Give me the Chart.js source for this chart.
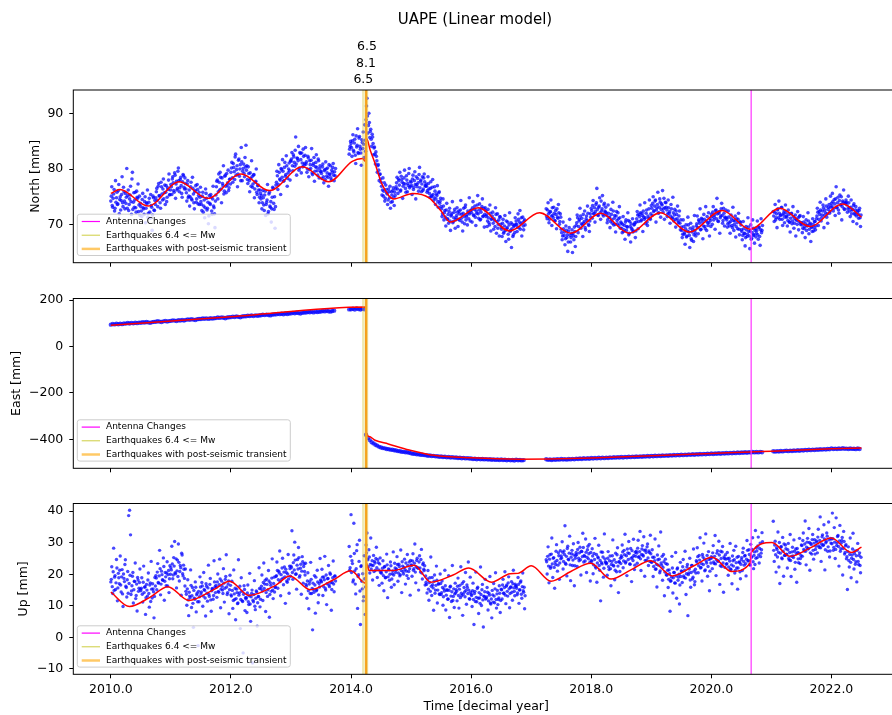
<!DOCTYPE html>
<html>
<head>
<meta charset="utf-8">
<title>UAPE (Linear model)</title>
<script src="https://cdn.jsdelivr.net/npm/chart.js@4.4.1/dist/chart.umd.min.js"></script>
<style>
  html, body { margin: 0; padding: 0; background: #fff; overflow: hidden; }
  #wrap { position: relative; width: 892px; height: 715px; overflow: hidden; }
  #wrap canvas { position: absolute; left: 0; }
</style>
</head>
<body>
<div id="wrap">
  <canvas id="north" width="903" height="285" style="top:0px"></canvas>
  <canvas id="east" width="903" height="205" style="top:285px"></canvas>
  <canvas id="up" width="903" height="225" style="top:490px"></canvas>
</div>
<script>
const _ = null; // no solution for that epoch

const xTicks = [2010, 2012, 2014, 2016, 2018, 2020, 2022];
const northTicks = [70, 80, 90];
const eastTicks = [-400, -200, 0, 200];
const upTicks = [-10, 0, 10, 20, 30, 40];

// events
const antennaChanges = [2020.663];
const quakeTimes = [2014.205, 2014.249, 2014.265];
const quakeMags = ['6.5', '8.1', '6.5'];
const transientTimes = [2014.252];

// fitted trajectory model (knots)
const northModelT = [2010.0, 2010.15, 2010.62, 2011.14, 2011.61, 2012.17, 2012.64, 2013.19, 2013.63, 2014.02, 2014.19, 2014.235, 2014.255, 2014.32, 2014.40, 2014.51, 2014.71, 2015.03, 2015.30, 2015.50, 2015.65, 2016.12, 2016.64, 2017.14, 2017.66, 2018.16, 2018.63, 2019.15, 2019.63, 2020.18, 2020.65, 2021.14, 2021.64, 2022.19, 2022.5];
const northModelV = [75.6, 76.3, 73.3, 77.7, 74.7, 79.1, 76.1, 80.4, 77.7, 81.4, 81.9, 81.4, 85.6, 83.4, 81.0, 77.4, 74.6, 75.6, 74.8, 72.4, 70.4, 73.0, 68.8, 72.1, 68.4, 72.0, 68.4, 72.1, 68.6, 72.5, 69.1, 72.9, 69.6, 73.7, 71.3];

const eastModelT = [2010.0, 2012.0, 2014.245, 2014.255, 2014.30, 2014.40, 2014.62, 2014.97, 2015.38, 2016.0, 2016.8, 2017.3, 2018.0, 2019.0, 2020.0, 2020.65, 2021.0, 2022.0, 2022.5];
const eastModelV = [91, 128, 170, -372, -388, -404, -420, -446, -469, -480, -486, -485, -481, -471, -461, -455, -451, -441, -437];

const upModelT = [2010.0, 2010.31, 2010.65, 2010.95, 2011.30, 2011.70, 2011.98, 2012.30, 2012.75, 2012.98, 2013.32, 2013.70, 2014.00, 2014.24, 2014.255, 2014.30, 2014.70, 2015.05, 2015.33, 2015.70, 2015.96, 2016.34, 2016.65, 2016.78, 2017.00, 2017.33, 2017.66, 2017.99, 2018.33, 2018.66, 2018.99, 2019.35, 2019.71, 2020.01, 2020.34, 2020.645, 2020.665, 2021.01, 2021.31, 2021.64, 2022.00, 2022.33, 2022.50];
const upModelV = [14.4, 9.8, 12.7, 16.1, 11.7, 15.0, 17.8, 13.3, 16.6, 19.5, 15.1, 18.2, 21.1, 17.2, 23.6, 21.2, 21.2, 22.9, 17.5, 19.8, 22.0, 17.5, 20.2, 20.3, 22.7, 17.8, 20.9, 23.5, 18.5, 21.4, 24.3, 19.5, 22.7, 25.4, 20.9, 23.6, 26.9, 30.1, 25.7, 28.3, 31.5, 26.9, 28.6];

// observed positions, one row per quarter year starting 2010.0
const northObs = [
  [74.2, 76.8, 73.1, 75.5, 72.4, 77.9, 74.8, 73.6, 76.1, 71.9, 75.0, 74.3, 78.6, 73.2, 75.9, 72.8],
  [73.8, 80.1, 75.2, 72.5, 74.6, 76.9, 71.8, 79.4, 74.0, 73.1, 75.8, 72.2, 74.9, 77.3, 73.5, 71.6],
  [73.2, 71.4, 75.6, 72.8, 74.1, 70.3, 73.9, 76.2, 72.0, 74.7, 71.1, 73.4, 68.9, 75.1, 72.6, 74.3],
  [74.8, 76.5, 73.2, 77.4, 75.1, 72.9, 76.8, 74.4, 78.2, 75.7, 73.6, 77.0, 74.9, 76.3, 79.1, 75.4],
  [77.2, 75.4, 78.6, 76.1, 79.3, 74.7, 77.8, 76.5, 80.2, 75.9, 78.1, 77.0, 74.9, 79.0, 76.7, 78.4],
  [76.4, 74.2, 77.9, 75.1, 73.3, 76.8, 74.6, 78.5, 75.5, 72.8, 76.1, 74.0, 77.2, 73.7, 75.8, 74.9],
  [74.1, 72.5, 75.8, 73.3, 71.2, 76.4, 74.7, 72.9, 70.1, 75.2, 73.6, 74.9, 71.8, 76.9, 73.0, 69.4],
  [75.3, 77.8, 74.6, 79.1, 76.2, 78.5, 73.9, 77.4, 80.6, 76.0, 78.9, 75.7, 77.1, 79.8, 76.6, 78.2],
  [79.4, 81.2, 77.6, 80.3, 78.1, 82.7, 79.9, 76.8, 81.6, 78.7, 80.8, 83.9, 77.9, 80.1, 79.2, 82.1],
  [84.3, 80.6, 77.4, 79.2, 75.9, 78.3, 81.5, 76.7, 78.9, 74.8, 77.6, 80.0, 75.4, 77.1, 73.9, 76.2],
  [74.6, 72.8, 76.1, 73.5, 75.3, 71.6, 74.0, 77.2, 72.3, 75.8, 73.1, 70.4, 74.9, 76.5, 72.7, 69.3],
  [77.1, 79.6, 76.3, 80.8, 78.2, 75.4, 79.9, 81.7, 77.8, 80.3, 78.7, 82.4, 76.9, 79.3, 81.1, 78.0],
  [81.4, 83.0, 79.7, 82.2, 80.5, 85.8, 78.9, 81.9, 84.1, 80.2, 82.8, 79.3, 81.1, 83.6, 80.7, 82.5],
  [80.9, 79.4, 82.3, 78.6, 81.5, 80.1, 83.7, 79.0, 81.0, 77.8, 80.4, 82.6, 79.7, 81.8, 78.4, 80.6],
  [79.6, 78.3, 80.9, 77.5, 79.9, 81.3, 78.7, 80.2, 76.9, 79.1, 80.6, 78.0, 79.4, 81.0, 77.9, 78.8],
  [_, _, _, _, _, _, _, _, _, _, _, _, _, _, 82.7, 84.1],
  [84.6, 82.3, 86.2, 83.1, 85.4, 81.0, 84.0, 87.3, 82.8, 85.9, 83.6, 80.7, 84.8, 86.7, 82.1, 85.2],
  [88.9, 92.8, 86.5, 90.1, 85.7, 87.2, 84.1, 85.8, 82.6, 84.0, 80.9, 82.3, 79.4, 80.8, 77.9, 79.1],
  [77.6, 75.3, 78.4, 76.0, 74.2, 77.1, 75.7, 73.6, 76.4, 74.8, 72.9, 75.9, 74.1, 76.6, 73.4, 75.2],
  [76.8, 78.5, 75.6, 77.9, 79.4, 76.2, 78.1, 74.7, 77.4, 79.8, 76.5, 78.8, 75.9, 77.0, 80.1, 76.9],
  [77.6, 75.4, 78.9, 76.7, 79.5, 74.6, 77.2, 78.3, 76.0, 80.3, 77.8, 75.9, 78.6, 76.4, 79.1, 77.0],
  [77.3, 75.8, 78.6, 76.4, 74.9, 77.7, 75.2, 78.1, 74.3, 76.8, 73.6, 75.5, 77.0, 73.1, 75.9, 74.2],
  [73.2, 71.4, 74.6, 70.8, 72.5, 69.7, 73.8, 71.0, 70.2, 72.9, 68.9, 71.7, 74.1, 70.5, 72.2, 69.3],
  [71.2, 73.0, 69.6, 72.4, 70.7, 74.3, 71.8, 68.8, 72.9, 70.1, 73.5, 71.4, 69.9, 72.1, 74.8, 70.6],
  [72.6, 70.4, 74.1, 71.7, 73.3, 69.8, 72.0, 75.2, 71.1, 73.7, 70.9, 72.8, 74.6, 71.5, 69.5, 73.0],
  [71.4, 69.6, 72.7, 70.3, 73.5, 68.8, 71.0, 72.2, 69.1, 70.7, 73.0, 68.4, 71.9, 70.0, 67.9, 71.3],
  [69.5, 67.8, 70.9, 68.6, 71.6, 66.9, 69.2, 70.4, 67.3, 72.1, 68.9, 65.8, 70.0, 68.1, 69.8, 71.2],
  [70.6, 68.7, 71.9, 69.4, 72.5, 70.1, 67.9, 71.3, 69.0, 70.8, _, _, _, _, _, _],
  [_, _, _, _, _, _, _, _, _, _, _, _, _, _, _, _],
  [72.8, 71.0, 73.9, 70.3, 72.2, 74.4, 69.8, 71.6, 73.1, 70.7, 72.5, 69.2, 71.3, 73.6, 70.0, 71.9],
  [69.1, 67.2, 70.4, 68.0, 66.3, 69.7, 67.6, 65.1, 68.8, 70.9, 66.8, 68.3, 64.9, 67.9, 69.5, 66.0],
  [69.8, 71.7, 68.5, 70.6, 72.9, 69.3, 71.1, 67.8, 70.2, 72.4, 69.0, 71.5, 73.3, 70.0, 68.7, 71.9],
  [72.9, 71.1, 74.3, 72.0, 70.4, 73.6, 76.5, 71.7, 73.1, 74.8, 70.9, 72.4, 75.2, 71.5, 73.8, 72.2],
  [72.1, 70.3, 73.5, 71.2, 69.4, 72.7, 70.8, 74.0, 69.9, 71.6, 68.6, 72.3, 70.1, 71.0, 73.2, 69.3],
  [70.2, 68.5, 71.4, 69.0, 67.3, 70.8, 69.6, 72.1, 68.1, 70.5, 66.8, 69.3, 71.0, 68.8, 70.0, 67.6],
  [70.4, 72.3, 69.2, 71.8, 73.5, 70.6, 72.0, 68.7, 71.3, 73.9, 70.1, 72.6, 69.8, 71.1, 74.4, 70.9],
  [73.4, 71.6, 75.0, 72.5, 74.2, 70.4, 73.0, 75.8, 72.1, 74.6, 71.3, 73.7, 76.1, 72.8, 70.9, 74.0],
  [73.1, 71.4, 74.4, 72.0, 70.2, 73.6, 71.1, 74.9, 70.6, 72.7, 69.5, 71.8, 73.3, 70.3, 72.4, 69.0],
  [69.5, 67.6, 70.8, 68.2, 66.4, 69.9, 67.9, 71.3, 68.6, 65.8, 70.2, 67.1, 69.0, 66.9, 71.6, 68.4],
  [69.7, 71.5, 68.3, 70.6, 72.8, 69.1, 70.9, 67.4, 71.8, 69.6, 73.2, 68.9, 70.3, 72.1, 67.9, 70.7],
  [71.8, 70.0, 73.2, 71.3, 69.1, 72.6, 74.7, 70.6, 72.0, 68.4, 71.5, 73.8, 70.2, 72.9, 69.7, 71.1],
  [71.2, 69.5, 72.4, 70.3, 68.4, 71.7, 69.8, 73.1, 68.9, 70.6, 67.7, 71.0, 69.2, 72.0, 68.1, 70.4],
  [69.0, 67.2, 70.5, 68.3, 66.1, 69.6, 67.8, 71.2, 68.7, 65.6, 69.9, 67.5, 70.8, 68.0, 66.6, 69.3],
  [68.4, 70.6, 67.3, 69.5, 66.2, 71.0, 68.9, _, _, _, _, _, _, _, _, _],
  [_, _, 72.3, 70.5, 73.6, 71.2, 69.4, 72.8, 74.2, 70.9, 71.7, 73.1, 69.8, 72.0, 70.3, 73.5],
  [71.5, 69.7, 72.6, 70.4, 68.6, 71.9, 70.1, 73.2, 69.3, 71.0, 67.9, 70.7, 72.3, 69.0, 71.4, 70.0],
  [70.3, 68.5, 71.4, 69.2, 67.6, 70.8, 69.7, 72.1, 68.3, 70.0, 66.9, 69.5, 71.0, 68.8, 70.5, 69.0],
  [71.0, 72.9, 69.8, 72.3, 74.0, 70.6, 71.7, 73.5, 69.4, 72.6, 74.6, 71.3, 70.2, 73.1, 72.0, 75.1],
  [73.8, 75.6, 72.4, 74.5, 71.6, 76.8, 73.1, 74.9, 72.0, 75.3, 73.6, 70.8, 74.2, 76.2, 72.7, 73.9],
  [74.0, 72.2, 75.1, 73.0, 71.4, 74.4, 72.6, 70.5, 73.7, 71.8, 73.2, 70.1, 72.5, 71.1, 72.9, 69.6]
];

// second set of epochs, half a step later in each row
const northObsB = [
  [75.1, 73.4, 74.7, 76.3, 72.9, 74.0, 75.8, 73.7, 77.2, 74.5, 72.6, 75.4, 73.9, 76.7, 74.2, 75.6],
  [74.9, 72.9, 76.2, 73.6, 75.3, 74.1, 78.2, 72.7, 75.7, 74.4, 73.0, 76.0, 74.7, 72.3, 75.1, 73.8],
  [72.4, 74.5, 73.0, 71.8, 75.0, 72.9, 73.7, 71.3, 74.0, 72.2, 75.4, 73.1, 71.7, 74.8, 72.5, 73.6],
  [75.9, 74.3, 76.9, 75.2, 73.9, 77.6, 75.5, 76.4, 74.6, 77.1, 75.8, 74.1, 76.6, 78.0, 75.3, 76.2],
  [76.8, 78.2, 77.5, 75.8, 78.9, 77.3, 76.2, 79.6, 77.9, 76.6, 78.5, 75.6, 77.7, 78.8, 76.4, 77.4],
  [75.7, 77.3, 74.8, 76.2, 75.0, 77.6, 74.4, 76.5, 73.9, 75.9, 77.0, 74.6, 76.3, 75.2, 73.6, 76.7],
  [73.6, 75.1, 72.2, 74.4, 73.0, 75.6, 72.6, 74.0, 71.5, 73.8, 75.4, 72.4, 74.6, 73.3, 71.9, 74.2],
  [76.8, 78.0, 75.9, 77.6, 79.4, 76.4, 78.4, 77.0, 75.5, 78.7, 76.9, 79.2, 77.5, 76.1, 78.1, 77.3],
  [80.2, 78.4, 81.0, 79.5, 82.2, 78.9, 80.6, 79.1, 81.8, 80.0, 77.9, 81.3, 79.6, 80.9, 78.6, 80.4],
  [79.8, 78.1, 80.4, 77.9, 79.3, 76.9, 78.6, 77.3, 79.0, 76.4, 77.8, 75.8, 77.0, 76.2, 74.9, 75.6],
  [75.2, 73.9, 74.8, 72.5, 76.0, 73.6, 74.4, 71.9, 75.5, 73.3, 74.1, 72.8, 76.7, 73.8, 75.0, 73.2],
  [77.6, 78.8, 77.2, 79.4, 78.0, 80.1, 78.5, 79.6, 77.9, 81.2, 79.0, 80.6, 78.3, 80.0, 79.7, 81.5],
  [81.8, 80.6, 82.6, 81.2, 83.4, 80.9, 82.0, 81.5, 79.8, 83.0, 81.7, 82.9, 80.4, 82.3, 81.0, 83.9],
  [81.3, 80.0, 82.0, 79.9, 80.8, 81.6, 79.3, 80.7, 82.1, 79.6, 81.2, 80.3, 78.9, 81.5, 80.1, 79.5],
  [79.2, 80.4, 78.6, 79.7, 78.1, 80.0, 79.3, 78.5, 80.8, 79.0, 78.4, 79.8, 80.3, 78.9, 79.5, 80.1],
  [_, _, _, _, _, _, _, _, _, _, _, _, _, _, 83.6, 85.0],
  [83.9, 85.1, 83.4, 84.7, 82.5, 86.0, 84.3, 83.0, 85.6, 84.1, 82.9, 85.3, 83.7, 84.5, 88.0, 83.2],
  [91.4, 89.6, 87.9, 88.4, 86.8, 85.4, 86.3, 84.6, 83.8, 82.7, 83.1, 81.5, 80.6, 79.8, 79.0, 78.2],
  [76.9, 76.2, 75.1, 77.5, 74.7, 76.3, 75.5, 74.4, 75.9, 76.9, 74.0, 75.3, 76.1, 74.9, 75.8, 76.4],
  [77.5, 76.4, 78.2, 77.1, 76.0, 78.7, 77.6, 76.9, 78.4, 77.3, 75.8, 78.0, 77.4, 79.2, 76.6, 77.8],
  [77.0, 78.2, 76.3, 77.9, 77.2, 78.6, 76.8, 77.5, 79.0, 76.6, 78.0, 77.3, 76.1, 78.4, 77.7, 76.9],
  [76.9, 76.1, 77.4, 75.6, 76.5, 75.0, 76.7, 75.4, 74.8, 76.0, 74.6, 75.2, 74.1, 75.7, 73.8, 74.7],
  [72.8, 71.9, 73.3, 72.1, 71.3, 72.6, 70.9, 71.8, 72.3, 70.6, 71.5, 72.0, 70.3, 71.2, 72.7, 70.8],
  [71.6, 72.2, 70.9, 71.9, 72.6, 71.1, 70.4, 72.0, 71.4, 73.1, 70.8, 71.7, 72.4, 71.0, 71.9, 72.5],
  [72.1, 73.0, 71.6, 72.7, 71.3, 72.4, 73.5, 71.9, 72.6, 70.8, 72.2, 73.2, 71.4, 72.9, 71.8, 72.5],
  [71.7, 70.6, 71.2, 69.9, 72.0, 70.9, 71.5, 70.2, 71.0, 69.6, 71.8, 70.5, 69.3, 70.8, 71.4, 70.0],
  [69.1, 70.2, 68.4, 69.7, 68.9, 70.6, 69.4, 68.2, 69.9, 68.7, 70.3, 69.2, 67.8, 69.6, 68.5, 70.0],
  [70.0, 69.5, 70.9, 70.4, 69.1, 71.2, 70.3, 69.7, 70.6, 69.9, _, _, _, _, _, _],
  [_, _, _, _, _, _, _, _, _, _, _, _, _, _, _, _],
  [71.4, 72.6, 71.9, 70.9, 72.3, 71.5, 73.0, 71.2, 72.0, 70.6, 71.8, 72.8, 71.1, 72.1, 70.5, 71.3],
  [68.5, 67.9, 69.2, 68.6, 67.4, 68.9, 68.1, 66.8, 69.4, 68.0, 67.6, 69.0, 68.3, 67.2, 68.7, 67.8],
  [70.3, 71.2, 69.6, 70.9, 71.5, 70.1, 69.9, 71.8, 70.5, 69.4, 71.0, 70.7, 72.0, 69.8, 70.6, 71.3],
  [72.5, 73.4, 71.9, 73.0, 72.3, 73.9, 72.7, 71.6, 73.3, 72.1, 74.2, 72.8, 71.8, 73.5, 72.4, 73.1],
  [71.6, 70.8, 72.0, 71.3, 70.5, 71.8, 70.2, 72.4, 71.1, 70.0, 71.5, 70.7, 72.1, 69.8, 71.2, 70.4],
  [69.3, 70.0, 68.7, 69.8, 70.4, 68.9, 69.5, 70.7, 68.4, 69.6, 70.1, 69.0, 68.6, 69.9, 70.3, 68.8],
  [71.0, 71.7, 70.5, 71.4, 72.1, 70.8, 71.6, 72.4, 70.9, 71.2, 72.0, 70.4, 71.5, 72.8, 71.1, 71.9],
  [72.9, 73.8, 72.3, 73.3, 74.4, 72.6, 73.6, 72.0, 73.1, 74.0, 72.7, 73.5, 72.2, 74.7, 73.0, 73.9],
  [72.6, 71.9, 73.0, 72.3, 71.5, 72.8, 71.2, 72.1, 71.7, 70.9, 72.4, 71.0, 70.6, 71.5, 70.2, 70.8],
  [68.9, 68.2, 69.6, 68.5, 69.2, 67.7, 68.8, 69.9, 68.0, 69.3, 67.4, 68.6, 69.5, 68.1, 68.9, 67.9],
  [70.1, 69.4, 70.8, 70.2, 69.0, 71.1, 70.4, 69.7, 70.9, 69.2, 70.6, 71.4, 69.8, 70.3, 71.0, 69.6],
  [71.4, 72.2, 70.8, 71.7, 72.5, 71.0, 71.9, 70.5, 72.3, 71.2, 72.8, 71.6, 70.7, 72.0, 71.3, 72.6],
  [70.8, 70.1, 71.3, 69.7, 70.5, 71.0, 69.4, 70.7, 70.0, 71.5, 69.6, 70.3, 70.9, 69.1, 70.4, 69.9],
  [68.7, 68.0, 69.2, 68.4, 67.6, 69.0, 68.2, 69.5, 67.9, 68.8, 67.3, 68.5, 69.3, 68.1, 68.9, 67.7],
  [68.9, 68.1, 69.4, 67.8, 69.0, 68.5, 69.8, _, _, _, _, _, _, _, _, _],
  [_, _, 71.5, 72.2, 70.8, 71.9, 72.6, 71.2, 72.0, 71.6, 73.0, 70.9, 71.7, 72.4, 71.3, 72.1],
  [71.3, 70.7, 71.8, 70.4, 71.1, 72.0, 70.6, 71.4, 70.2, 71.7, 70.9, 70.0, 71.2, 70.5, 71.6, 70.3],
  [69.9, 69.3, 70.4, 69.6, 70.1, 68.9, 69.8, 70.6, 69.1, 70.2, 69.5, 68.7, 70.0, 69.4, 70.5, 69.7],
  [71.5, 72.2, 70.9, 71.8, 72.6, 71.2, 72.4, 73.0, 71.6, 72.1, 73.3, 71.9, 72.7, 73.6, 72.3, 73.1],
  [73.3, 74.1, 72.9, 73.7, 74.6, 73.0, 73.9, 72.6, 74.3, 73.5, 75.0, 73.2, 74.0, 72.8, 73.8, 74.4],
  [73.5, 72.8, 73.9, 72.4, 73.1, 71.9, 72.7, 73.4, 72.0, 72.6, 71.5, 72.2, 71.8, 72.5, 71.2, 71.7]
];

const eastObs = [
  [94.1, 96.8, 95.2, 97.9, 95.7, 98.4, 96.3, 99.1],
  [98.6, 100.9, 99.3, 101.7, 99.8, 102.4, 100.5, 103.0],
  [102.2, 104.6, 103.1, 105.5, 103.8, 101.9, 104.9, 106.2],
  [106.4, 108.9, 107.2, 105.8, 108.3, 110.1, 107.7, 109.4],
  [110.3, 112.7, 111.5, 109.9, 113.2, 111.8, 114.0, 112.1],
  [114.6, 116.9, 115.1, 117.6, 115.8, 113.9, 117.2, 118.4],
  [118.2, 120.7, 119.5, 121.3, 118.9, 122.0, 120.1, 121.8],
  [122.4, 124.8, 123.1, 125.6, 123.7, 121.9, 125.0, 126.3],
  [126.5, 128.9, 127.2, 129.6, 127.8, 126.1, 129.0, 130.2],
  [130.3, 132.7, 131.4, 133.5, 131.0, 134.1, 132.2, 133.8],
  [134.6, 136.8, 135.2, 137.5, 135.9, 134.0, 137.1, 138.3],
  [138.2, 140.6, 139.4, 141.3, 139.0, 142.1, 140.2, 141.7],
  [142.5, 144.9, 143.3, 145.6, 143.8, 142.0, 145.2, 146.4],
  [146.3, 148.7, 147.5, 149.4, 147.0, 150.2, 148.1, 149.8],
  [150.6, 152.9, 151.3, 153.7, 151.8, 150.2, 153.0, 154.5],
  [_, _, _, _, _, _, _, 159.8],
  [160.4, 162.8, 159.6, 163.5, 161.2, 158.9, 162.3, 160.7],
  [-380.6, -394.8, -403.5, -412.9, -417.6, -423.8, -427.4, -432.5],
  [-435.2, -437.9, -439.1, -441.6, -442.4, -444.7, -445.3, -447.5],
  [-448.6, -450.9, -451.2, -453.4, -454.0, -455.8, -456.1, -458.2],
  [-460.3, -462.7, -462.2, -464.9, -464.6, -466.3, -466.9, -468.1],
  [-468.5, -470.6, -469.8, -472.2, -471.4, -473.5, -472.8, -474.9],
  [-474.2, -476.5, -475.3, -477.8, -476.1, -478.4, -477.0, -479.2],
  [-478.6, -480.3, -479.5, -481.7, -480.2, -482.4, -481.1, -483.0],
  [-482.7, -485.1, -483.6, -485.9, -484.2, -486.3, -484.8, -486.7],
  [-485.4, -487.6, -486.0, -488.2, -486.7, -488.9, -487.1, -489.3],
  [-487.2, -489.5, -488.1, -490.3, -488.6, -490.8, -489.0, -491.2],
  [-488.4, -490.6, -489.2, -491.0, -489.7, _, _, _],
  [_, _, _, _, _, _, _, _],
  [-486.3, -488.5, -487.0, -489.1, -486.6, -488.2, -485.9, -487.8],
  [-485.0, -487.2, -485.6, -487.8, -484.9, -486.7, -484.3, -486.4],
  [-483.5, -485.1, -482.6, -484.8, -482.0, -484.3, -481.5, -483.7],
  [-480.7, -482.9, -480.2, -482.4, -479.6, -481.8, -479.1, -481.3],
  [-478.8, -480.5, -478.1, -479.9, -477.4, -479.2, -476.9, -478.6],
  [-476.5, -478.3, -475.8, -477.6, -475.1, -476.9, -474.6, -476.2],
  [-474.0, -475.8, -473.4, -475.1, -472.8, -474.5, -472.2, -473.9],
  [-471.6, -473.3, -470.9, -472.7, -470.2, -472.0, -469.6, -471.4],
  [-469.1, -470.8, -468.4, -470.2, -467.8, -469.5, -467.1, -468.9],
  [-466.6, -468.3, -465.9, -467.7, -465.2, -467.0, -464.6, -466.4],
  [-464.0, -465.8, -463.4, -465.1, -462.8, -464.5, -462.2, -463.9],
  [-461.5, -463.3, -460.9, -462.6, -460.3, -462.0, -459.7, -461.5],
  [-459.0, -460.8, -458.4, -460.1, -457.8, -459.6, -457.2, -458.9],
  [-456.6, -458.3, -455.9, -457.7, -455.3, -457.0, -454.7, -456.4],
  [-454.8, -456.4, -454.1, -455.7, _, _, _, _],
  [_, -451.8, -453.3, -451.0, -452.7, -450.4, -452.1, -449.8],
  [-449.5, -451.0, -448.7, -450.4, -448.0, -449.7, -447.4, -449.1],
  [-446.6, -448.2, -445.8, -447.5, -445.1, -446.8, -444.5, -446.2],
  [-443.7, -445.3, -442.9, -444.6, -442.2, -443.9, -441.5, -443.2],
  [-439.2, -441.8, -440.3, -442.1, -439.6, -441.3, -438.9, -440.7],
  [-440.2, -441.9, -439.5, -441.3, -440.8, -442.4, -439.9, -441.6]
];

const upObs = [
  [17.6, 22.4, 13.9, 28.3, 19.1, 15.2, 24.7, 11.6, 20.3, 17.0, 25.8, 14.4, 21.5, 9.8, 18.7, 23.1],
  [16.2, 12.8, 20.9, 38.6, 40.3, 32.5, 14.7, 19.4, 10.9, 17.8, 23.6, 13.3, 8.4, 18.2, 15.6, 21.7],
  [14.8, 18.9, 11.2, 22.6, 15.9, 7.3, 16.8, 13.1, 20.4, 9.6, 17.3, 24.1, 12.5, 15.4, 6.2, 19.0],
  [19.6, 15.1, 23.4, 17.2, 27.6, 13.5, 21.0, 18.3, 25.2, 11.8, 20.6, 16.4, 24.0, 19.9, 14.2, 22.7],
  [22.1, 28.9, 18.6, 25.3, 30.4, 20.2, 15.7, 24.5, 29.6, 17.9, 22.8, 13.4, 26.1, 19.5, 21.6, 16.3],
  [14.6, 10.2, 18.3, 6.9, 13.1, 21.4, 9.5, 15.8, 3.2, 12.4, 17.6, 8.1, 14.0, -2.6, 11.3, 19.2],
  [13.8, 17.4, 9.9, 20.6, 14.9, 6.8, 16.2, 11.5, 22.9, 13.0, 18.7, 8.3, 15.5, 12.1, 24.3, 16.0],
  [16.5, 12.7, 20.1, 14.3, 24.8, 9.4, 17.9, 15.0, 21.8, 11.2, 18.4, 26.2, 13.6, 16.9, 7.5, 19.7],
  [13.5, 17.8, 9.2, 21.4, 12.0, 5.6, 15.3, 10.7, 24.6, 14.1, 2.8, 18.9, 11.6, -4.9, 16.4, 8.5],
  [12.2, 7.9, 16.6, 10.4, 20.3, 5.1, 13.9, -8.1, 11.3, 18.0, 8.8, 14.7, 3.6, 12.9, 22.1, 9.7],
  [15.4, 19.8, 11.7, 23.6, 16.9, 8.2, 18.5, 13.0, 21.2, 6.4, 17.3, 14.6, 24.9, 12.3, 19.1, 15.8],
  [19.3, 23.9, 15.6, 21.0, 27.4, 13.2, 18.4, 25.1, 16.7, 22.3, 10.8, 20.6, 17.5, 26.3, 14.0, 21.8],
  [22.6, 33.8, 18.4, 26.1, 30.2, 20.0, 15.3, 24.7, 28.5, 19.1, 21.9, 13.7, 25.6, 17.2, 23.3, 19.8],
  [16.8, 12.4, 20.5, 9.1, 17.7, 23.8, 13.9, 2.4, 15.2, 19.6, 7.7, 14.8, 21.3, 11.0, 17.1, 25.0],
  [17.9, 21.6, 13.3, 19.2, 25.7, 15.0, 10.4, 18.6, 22.8, 16.1, 20.0, 8.6, 17.4, 24.2, 14.5, 19.5],
  [_, _, _, _, _, _, _, _, _, _, _, _, _, _, 28.8, 22.1],
  [38.9, 24.3, 17.6, 36.2, 21.1, 13.8, 27.5, 9.2, 19.9, 30.8, 4.1, 22.7, 15.4, 11.6, 25.9, 7.3],
  [29.3, 33.1, 24.6, 27.8, 20.4, 31.5, 22.9, 18.2, 26.0, 24.1, 21.3, 28.6, 19.0, 23.7, 16.5, 25.2],
  [20.9, 17.2, 24.3, 14.8, 22.5, 19.0, 26.4, 12.6, 21.7, 18.1, 23.9, 15.9, 20.2, 27.1, 16.7, 22.0],
  [21.4, 25.6, 17.8, 23.2, 19.5, 27.7, 14.2, 22.6, 20.1, 24.8, 16.9, 21.0, 26.3, 18.7, 23.9, 13.4],
  [23.0, 19.4, 26.5, 21.8, 29.6, 17.3, 24.4, 22.1, 15.0, 25.9, 20.7, 27.9, 18.5, 23.6, 21.2, 16.6],
  [17.5, 14.1, 21.2, 11.8, 18.9, 25.5, 13.3, 16.7, 8.6, 19.8, 15.0, 22.6, 10.9, 17.0, 13.8, 20.1],
  [13.6, 17.9, 10.2, 15.4, 21.3, 8.7, 14.9, 12.1, 19.6, 6.3, 16.2, 11.4, 22.8, 13.0, 9.5, 17.2],
  [15.1, 11.6, 18.8, 9.3, 16.5, 22.4, 13.2, 7.0, 17.7, 14.4, 20.6, 10.5, 15.8, 23.9, 12.3, 19.1],
  [13.7, 9.8, 17.2, 4.1, 14.6, 20.7, 11.3, 15.9, 7.6, 12.5, 22.3, 10.1, 16.8, 3.3, 13.0, 18.4],
  [12.4, 15.8, 8.7, 14.0, 19.3, 10.6, 6.2, 13.5, 17.1, 11.0, 20.5, 9.3, 14.9, 12.0, 16.4, 7.9],
  [15.3, 12.2, 18.4, 14.0, 20.8, 10.7, 16.6, 13.1, 19.2, 9.4, 15.9, 17.7, 11.8, 21.3, 14.6, 16.9],
  [16.2, 13.5, 19.0, 10.8, 15.1, 17.9, 12.4, 20.4, 14.3, 9.1, _, _, _, _, _, _],
  [_, _, _, _, _, _, _, _, _, _, _, _, _, _, _, _],
  [24.6, 20.1, 28.7, 17.3, 26.2, 22.4, 31.5, 19.0, 25.3, 15.6, 23.1, 29.4, 21.0, 26.8, 18.4, 27.5],
  [25.8, 30.3, 21.7, 27.4, 35.4, 23.2, 19.5, 28.9, 24.6, 32.1, 18.0, 26.5, 22.8, 29.7, 16.4, 25.1],
  [26.9, 22.5, 30.1, 24.3, 28.6, 19.8, 27.2, 33.0, 23.9, 25.7, 31.2, 20.6, 27.8, 24.9, 29.5, 17.9],
  [24.4, 28.1, 20.2, 26.6, 31.4, 22.0, 17.5, 25.5, 29.2, 21.3, 11.6, 23.7, 27.0, 19.1, 32.8, 24.0],
  [23.3, 19.7, 27.2, 21.5, 25.8, 16.4, 24.1, 30.9, 22.6, 18.3, 26.7, 20.8, 28.4, 14.2, 23.9, 25.1],
  [25.9, 29.3, 22.1, 27.6, 32.7, 24.0, 19.6, 26.8, 30.4, 23.3, 28.2, 17.7, 25.4, 31.1, 21.5, 27.0],
  [27.3, 23.5, 30.8, 25.6, 33.6, 21.2, 28.0, 26.1, 31.9, 19.4, 27.7, 24.4, 29.6, 22.8, 26.9, 32.4],
  [23.9, 27.8, 19.3, 25.4, 31.2, 21.7, 16.0, 24.6, 29.0, 20.5, 33.4, 22.9, 18.1, 26.3, 13.2, 24.8],
  [19.9, 23.2, 15.8, 21.4, 8.3, 18.0, 25.7, 14.1, 20.6, 17.3, 26.9, 12.4, 22.0, 19.1, 10.6, 23.8],
  [21.1, 17.4, 24.7, 19.0, 27.3, 13.6, 22.3, 6.9, 20.4, 25.1, 15.9, 22.8, 18.5, 28.0, 16.7, 21.6],
  [24.3, 28.4, 20.5, 26.0, 31.6, 22.2, 17.9, 25.5, 29.9, 21.1, 32.8, 23.6, 19.4, 27.2, 14.8, 24.9],
  [25.6, 21.8, 29.1, 23.4, 32.3, 19.6, 26.7, 24.1, 30.5, 16.8, 27.3, 22.5, 28.8, 14.3, 25.0, 26.2],
  [23.2, 26.9, 19.7, 25.1, 29.8, 21.5, 17.0, 24.3, 27.6, 20.4, 28.9, 22.0, 15.3, 25.7, 23.8, 18.6],
  [24.6, 21.2, 28.3, 22.9, 26.0, 19.5, 30.7, 24.2, 27.8, 23.1, 29.5, 25.4, 31.6, 21.8, 27.1, 33.9],
  [28.4, 25.3, 31.8, 23.6, 29.9, 26.7, 33.2, _, _, _, _, _, _, _, _, _],
  [_, _, 36.8, 24.1, 30.5, 20.7, 27.9, 33.4, 22.3, 17.1, 28.6, 25.2, 31.7, 19.4, 26.0, 29.3],
  [26.4, 22.0, 29.8, 24.5, 32.6, 19.3, 27.1, 25.8, 30.9, 21.6, 28.0, 17.5, 26.9, 23.7, 31.4, 25.0],
  [29.3, 25.7, 33.1, 27.4, 36.9, 23.0, 30.2, 28.0, 34.5, 21.3, 29.8, 26.4, 32.6, 24.8, 31.0, 27.9],
  [30.6, 26.8, 34.3, 28.5, 38.2, 24.1, 31.9, 29.2, 35.7, 21.4, 30.0, 33.1, 27.3, 36.6, 25.5, 31.4],
  [31.2, 39.4, 27.6, 34.8, 25.0, 37.9, 29.9, 32.3, 22.6, 35.5, 28.1, 30.7, 19.8, 33.6, 26.4, 29.0],
  [24.9, 15.2, 28.7, 22.3, 31.5, 18.9, 26.1, 33.0, 21.7, 27.4, 24.0, 17.6, 29.8, 23.1, 26.8, 20.5]
];

const upObsB = [
  [18.4, 16.1, 20.8, 14.9, 19.6, 17.3, 22.0, 15.7, 18.9, 21.3, 16.6, 19.2, 13.8, 20.1, 17.7, 24.6],
  [15.8, 18.3, 14.0, 17.1, 19.7, 13.6, 16.4, 20.6, 15.1, 17.7, 12.3, 16.9, 19.0, 14.6, 17.4, 15.3],
  [15.6, 13.7, 17.5, 14.2, 16.1, 12.6, 15.0, 18.2, 13.9, 16.6, 11.4, 15.3, 17.0, 14.5, 13.0, 16.3],
  [18.8, 20.7, 17.4, 19.5, 21.8, 16.9, 19.9, 18.1, 22.5, 17.8, 19.2, 20.4, 16.3, 21.2, 18.6, 20.0],
  [21.4, 23.3, 19.8, 22.6, 20.5, 24.9, 21.1, 19.3, 23.8, 20.9, 22.1, 26.7, 20.2, 22.9, 18.7, 21.7],
  [13.7, 15.4, 11.9, 14.3, 12.6, 16.5, 13.2, 10.8, 14.9, 12.1, 15.9, 13.5, 11.3, 14.6, 12.9, 16.0],
  [14.4, 16.3, 13.1, 15.2, 12.5, 17.0, 14.0, 15.7, 13.6, 16.8, 11.9, 14.8, 15.4, 13.3, 17.6, 14.2],
  [15.9, 17.6, 14.6, 16.7, 18.5, 15.3, 16.2, 13.9, 17.2, 15.6, 19.3, 16.0, 14.2, 17.9, 15.1, 16.5],
  [13.1, 14.9, 11.7, 13.8, 15.6, 12.3, 14.2, 10.9, 13.4, 16.2, 12.0, 14.6, 11.4, 13.7, 15.2, 12.6],
  [12.6, 14.1, 11.3, 13.2, 10.6, 12.9, 15.0, 11.8, 13.6, 9.9, 12.4, 14.4, 11.0, 13.0, 15.5, 12.1],
  [16.2, 14.7, 17.4, 15.5, 18.1, 14.2, 16.8, 15.1, 17.9, 13.6, 16.5, 18.8, 15.0, 17.1, 14.4, 16.0],
  [19.6, 21.2, 18.3, 20.4, 17.7, 19.9, 22.0, 18.8, 20.7, 19.2, 21.6, 17.9, 20.1, 18.5, 22.6, 19.4],
  [22.2, 20.6, 23.7, 21.4, 24.5, 20.1, 22.9, 21.7, 25.3, 19.6, 23.2, 21.0, 24.0, 22.5, 20.9, 23.5],
  [16.3, 17.9, 14.8, 16.9, 13.9, 18.4, 15.5, 17.2, 14.3, 16.6, 19.1, 15.1, 17.6, 13.5, 16.0, 18.2],
  [17.6, 19.1, 16.2, 18.3, 15.6, 19.8, 17.0, 18.7, 16.6, 20.4, 17.3, 15.2, 18.9, 16.9, 19.4, 17.9],
  [_, _, _, _, _, _, _, _, _, _, _, _, _, _, 21.3, 25.7],
  [20.6, 23.4, 18.2, 26.6, 16.9, 21.8, 29.4, 19.3, 24.1, 14.7, 22.5, 17.8, 20.2, 12.9, 18.6, 16.0],
  [26.8, 24.9, 22.4, 25.5, 23.1, 21.7, 24.3, 22.8, 20.9, 23.6, 25.0, 22.1, 24.6, 21.4, 23.3, 20.6],
  [20.3, 21.9, 19.6, 22.3, 18.9, 20.8, 23.0, 19.2, 21.4, 20.0, 22.7, 18.5, 21.1, 19.8, 23.5, 20.6],
  [21.7, 23.1, 20.4, 22.5, 19.9, 21.2, 24.0, 20.8, 22.2, 21.5, 23.6, 19.6, 22.8, 20.9, 21.8, 24.4],
  [22.8, 24.2, 21.3, 23.5, 20.7, 22.4, 25.1, 21.9, 23.9, 22.0, 24.7, 20.4, 23.1, 21.6, 22.7, 19.5],
  [16.8, 18.5, 15.3, 17.4, 14.6, 16.2, 19.0, 15.7, 17.8, 14.0, 16.5, 18.1, 15.0, 16.9, 13.6, 17.1],
  [14.2, 15.8, 12.9, 14.7, 16.4, 13.4, 15.1, 12.2, 14.9, 16.0, 13.1, 14.5, 11.7, 15.4, 13.8, 14.1],
  [14.6, 16.2, 13.3, 15.3, 12.6, 14.0, 17.1, 13.7, 15.8, 12.9, 14.9, 16.6, 13.9, 15.0, 12.1, 14.3],
  [13.3, 14.8, 12.0, 13.9, 11.4, 12.7, 15.5, 12.4, 14.2, 10.8, 13.6, 15.1, 11.9, 13.1, 14.5, 12.2],
  [12.8, 14.3, 11.6, 13.4, 10.9, 12.2, 14.9, 11.2, 13.1, 15.4, 12.0, 13.8, 10.4, 12.5, 14.0, 11.7],
  [15.1, 16.6, 14.0, 15.8, 13.4, 16.2, 14.6, 17.3, 15.4, 13.9, 16.0, 14.3, 17.0, 15.7, 13.2, 16.4],
  [15.6, 14.1, 16.8, 15.0, 17.5, 13.7, 16.1, 14.8, 15.9, 13.2, _, _, _, _, _, _],
  [_, _, _, _, _, _, _, _, _, _, _, _, _, _, _, _],
  [24.0, 25.7, 22.6, 24.8, 21.9, 26.4, 23.3, 25.1, 22.2, 23.9, 27.3, 24.4, 22.9, 25.9, 23.6, 24.9],
  [25.2, 27.0, 24.1, 26.3, 23.5, 25.7, 28.2, 24.8, 26.7, 23.0, 25.4, 27.6, 24.5, 26.1, 22.7, 25.9],
  [26.3, 27.9, 25.1, 26.8, 24.6, 27.3, 25.6, 28.5, 26.0, 24.2, 27.0, 25.4, 28.9, 26.5, 23.8, 26.9],
  [24.1, 25.8, 23.0, 24.7, 22.4, 26.3, 23.6, 25.2, 22.8, 24.4, 27.1, 23.3, 25.5, 21.9, 24.9, 23.7],
  [23.6, 25.1, 22.4, 24.3, 21.8, 23.1, 25.9, 22.9, 24.6, 21.3, 23.8, 26.2, 22.6, 24.0, 20.9, 23.4],
  [25.4, 27.1, 24.2, 26.2, 23.6, 25.9, 28.0, 24.7, 26.6, 23.2, 25.1, 27.5, 24.4, 26.0, 22.9, 25.7],
  [26.7, 28.3, 25.4, 27.2, 24.9, 26.3, 29.1, 25.8, 27.6, 24.4, 26.9, 28.7, 25.2, 27.4, 24.1, 26.5],
  [23.8, 25.4, 22.5, 24.3, 21.6, 23.2, 26.1, 22.9, 24.8, 21.1, 23.6, 25.7, 22.2, 24.0, 20.7, 23.4],
  [19.7, 21.3, 18.4, 20.2, 17.8, 19.1, 22.0, 18.9, 20.6, 17.2, 19.5, 21.7, 18.1, 20.0, 16.6, 19.3],
  [20.9, 22.4, 19.5, 21.3, 18.8, 20.2, 23.1, 19.9, 21.7, 18.2, 20.6, 22.8, 19.1, 21.0, 17.7, 20.4],
  [23.9, 25.6, 22.7, 24.5, 22.0, 23.4, 26.3, 23.1, 24.9, 21.4, 24.2, 26.0, 22.5, 24.7, 21.0, 23.6],
  [25.2, 26.8, 23.9, 25.7, 23.3, 24.6, 27.5, 24.3, 26.1, 22.7, 25.0, 27.1, 23.6, 25.5, 22.2, 24.8],
  [23.4, 25.0, 22.3, 24.2, 21.7, 23.0, 25.8, 22.6, 24.6, 21.2, 23.7, 25.4, 22.0, 23.9, 20.8, 23.2],
  [25.3, 26.9, 24.1, 25.8, 23.4, 24.8, 27.6, 24.4, 26.3, 22.9, 25.6, 27.9, 24.0, 26.0, 23.1, 25.1],
  [27.4, 29.0, 26.1, 28.2, 25.6, 27.8, 30.3, _, _, _, _, _, _, _, _, _],
  [_, _, 27.6, 29.3, 26.2, 28.4, 25.5, 27.0, 30.1, 26.7, 28.8, 24.9, 27.3, 29.6, 26.0, 28.1],
  [26.2, 27.8, 25.0, 26.9, 24.4, 25.7, 28.6, 25.3, 27.3, 23.8, 26.5, 28.2, 24.9, 26.7, 23.4, 26.0],
  [29.1, 30.7, 27.9, 29.6, 27.3, 28.6, 31.4, 28.2, 30.1, 26.8, 29.4, 31.0, 27.6, 29.9, 26.4, 28.9],
  [30.2, 31.8, 29.0, 30.7, 28.4, 29.6, 32.5, 29.3, 31.2, 27.8, 30.4, 32.1, 28.7, 30.9, 27.4, 29.9],
  [29.7, 31.3, 28.5, 30.2, 27.9, 29.1, 32.0, 28.8, 30.6, 27.3, 29.9, 31.7, 28.2, 30.4, 26.9, 29.4],
  [25.6, 27.2, 24.4, 26.3, 23.8, 25.1, 28.0, 24.7, 26.6, 23.2, 25.9, 27.6, 24.1, 26.0, 22.8, 25.4]
];

const legendItems = [
  { text: 'Antenna Changes', color: '#ff00ff', width: 1.2 },
  { text: 'Earthquakes 6.4 <= Mw', color: 'rgba(190,190,0,0.75)', width: 1 },
  { text: 'Earthquakes with post-seismic transient', color: 'rgba(255,165,0,0.6)', width: 2.5 }
];

Chart.defaults.font.family = "'DejaVu Sans', sans-serif";
Chart.defaults.font.size = 12.5;
Chart.defaults.color = '#000';

// rows are quarter years, epochs evenly spaced inside each row
function obsPoints(rows, phase) {
  const pts = [];
  rows.forEach((row, k) => {
    const step = 0.25 / row.length;
    row.forEach((v, j) => {
      if (v !== null) pts.push({ x: 2010 + k * 0.25 + (j + phase) * step, y: v });
    });
  });
  return pts;
}

function modelPoints(ts, vs) {
  return ts.map((t, i) => ({ x: t, y: vs[i] }));
}

function fmtTick(v) {
  return v < 0 ? '\u2212' + Math.abs(v) : String(v);
}

const decor = {
  id: 'decor',
  afterDatasetsDraw(chart, args, opts) {
    const ctx = chart.ctx;
    const a = chart.chartArea;
    const x = chart.scales.x;

    ctx.save();
    ctx.beginPath();
    ctx.rect(a.left, a.top, a.right - a.left, a.bottom - a.top);
    ctx.clip();
    const vline = (t, color, width) => {
      const px = x.getPixelForValue(t);
      ctx.strokeStyle = color;
      ctx.lineWidth = width;
      ctx.beginPath();
      ctx.moveTo(px, a.top);
      ctx.lineTo(px, a.bottom);
      ctx.stroke();
    };
    antennaChanges.forEach(t => vline(t, '#ff33ff', 1.2));
    quakeTimes.forEach(t => vline(t, 'rgba(215,200,60,0.4)', 2.5));
    transientTimes.forEach(t => vline(t, '#f6a21e', 2.2));
    ctx.restore();

    // legend in the lower left corner of the axes
    const bx = a.left + 4, by = a.bottom - 48.5, bw = 213, bh = 41.3;
    ctx.save();
    ctx.fillStyle = 'rgba(255,255,255,0.8)';
    ctx.strokeStyle = '#cccccc';
    ctx.lineWidth = 1;
    ctx.beginPath();
    if (ctx.roundRect) ctx.roundRect(bx, by, bw, bh, 2.5);
    else ctx.rect(bx, by, bw, bh);
    ctx.fill();
    ctx.stroke();
    ctx.font = '9px "DejaVu Sans"';
    ctx.textBaseline = 'middle';
    ctx.textAlign = 'left';
    legendItems.forEach((it, i) => {
      const ly = by + 7.3 + 13.7 * i;
      ctx.strokeStyle = it.color;
      ctx.lineWidth = it.width;
      ctx.beginPath();
      ctx.moveTo(bx + 4.4, ly);
      ctx.lineTo(bx + 22.7, ly);
      ctx.stroke();
      ctx.fillStyle = '#000';
      ctx.fillText(it.text, bx + 28.7, ly);
    });
    ctx.restore();
  },
  afterDraw(chart, args, opts) {
    const ctx = chart.ctx;
    const a = chart.chartArea;
    ctx.save();
    ctx.strokeStyle = '#000';
    ctx.lineWidth = 1;
    ctx.strokeRect(a.left, a.top, a.right - a.left, a.bottom - a.top);
    if (opts.header) {
      const x = chart.scales.x;
      ctx.fillStyle = '#000';
      ctx.textAlign = 'center';
      ctx.textBaseline = 'middle';
      ctx.font = '15px "DejaVu Sans"';
      ctx.fillText('UAPE (Linear model)', 475, 20);
      ctx.font = '12.5px "DejaVu Sans"';
      quakeTimes.forEach((t, i) => {
        ctx.fillText(quakeMags[i], x.getPixelForValue(t), a.top - 11 - 16.5 * i + 0.8);
      });
    }
    ctx.restore();
  }
};

function panel(id, p) {
  return new Chart(document.getElementById(id), {
    type: 'scatter',
    data: {
      datasets: [
        {
          data: p.model,
          showLine: true,
          borderColor: '#ff0000',
          borderWidth: 1.5,
          pointRadius: 0,
          cubicInterpolationMode: 'monotone'
        },
        {
          data: p.obs,
          pointRadius: p.dot,
          pointBorderWidth: 0,
          backgroundColor: 'rgba(0,0,255,0.72)'
        }
      ]
    },
    options: {
      responsive: false,
      animation: false,
      devicePixelRatio: 1,
      layout: { padding: { top: p.padTop, left: 0, right: 0, bottom: 0 } },
      plugins: {
        legend: { display: false },
        tooltip: { enabled: false },
        decor: { header: !!p.header }
      },
      scales: {
        x: {
          type: 'linear',
          min: 2009.375,
          max: 2023.125,
          afterBuildTicks: s => { s.ticks = xTicks.map(v => ({ value: v })); },
          afterFit: s => { s.height = p.xHeight; },
          ticks: { display: !!p.xLabels, padding: 4, maxRotation: 0, autoSkip: false, callback: v => v.toFixed(1) },
          grid: { drawOnChartArea: false, drawTicks: true, tickLength: 4, tickColor: '#000', tickWidth: 1 },
          border: { display: false },
          title: { display: !!p.xLabels, text: 'Time [decimal year]', padding: { top: 0, bottom: 1 } }
        },
        y: {
          min: p.yMin,
          max: p.yMax,
          afterBuildTicks: s => { s.ticks = p.yTicks.map(v => ({ value: v })); },
          afterFit: s => { s.width = 73.3; },
          ticks: { padding: 6, callback: fmtTick },
          grid: { drawOnChartArea: false, drawTicks: true, tickLength: 4, tickColor: '#000', tickWidth: 1 },
          border: { display: false },
          title: { display: true, text: p.yTitle, padding: { top: p.titlePad, bottom: 0 } }
        }
      }
    },
    plugins: [decor]
  });
}

panel('north', {
  model: modelPoints(northModelT, northModelV),
  obs: obsPoints(northObs, 0).concat(obsPoints(northObsB, 0.5)), dot: 1.8,
  padTop: 90, xHeight: 22.3, yMin: 63.06, yMax: 94.3, yTicks: northTicks,
  yTitle: 'North [mm]', titlePad: 28.3, header: true
});
panel('east', {
  model: modelPoints(eastModelT, eastModelV), obs: obsPoints(eastObs, 0), dot: 2.2,
  padTop: 11.7, xHeight: 21.7, yMin: -525, yMax: 206.8, yTicks: eastTicks,
  yTitle: 'East [mm]', titlePad: 9.7
});
panel('up', {
  model: modelPoints(upModelT, upModelV),
  obs: obsPoints(upObs, 0).concat(obsPoints(upObsB, 0.5)), dot: 1.7,
  padTop: 13.3, xHeight: 40.7, yMin: -11.68, yMax: 42.44, yTicks: upTicks,
  yTitle: 'Up [mm]', titlePad: 16.7, xLabels: true
});
</script>
</body>
</html>
